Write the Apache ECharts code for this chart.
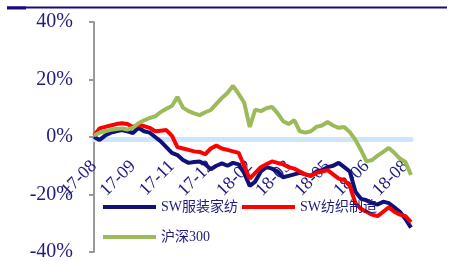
<!DOCTYPE html>
<html>
<head>
<meta charset="utf-8">
<script src="https://cdn.jsdelivr.net/npm/echarts@6/dist/echarts.min.js"></script>
<style>
  html, body { margin: 0; padding: 0; background: #fff; }
  #chart { width: 457px; height: 261px; }
</style>
</head>
<body>
<div id="chart"></div>
<script>
// tick labels shown every 7 points on the x axis
var tickLabels = ["17-08", "17-09", "17-11", "17-12", "18-02", "18-03", "18-05", "18-06", "18-08"];
var weeks = [];
for (var i = 0; i < 58; i++) weeks.push(i);

// SW服装家纺
var fuzhuang = [0, -1, 0.5, 1.5, 2, 2.4, 2, 1.4, 3.2, 2,
  1.5, 0, -1.5, -3.5, -5.5, -6.3, -8, -9, -8.7, -8.5,
  -9.5, -11.2, -10, -9.2, -10, -9, -9.5, -12.5, -17, -15.5,
  -12, -10.5, -11, -12, -14, -13.5, -13, -12.5, -13, -13.5,
  -12, -11.5, -10.5, -10, -9, -10.5, -12, -19, -21.5, -22,
  -23, -23.5, -22.5, -23, -24.5, -26, -28.5, -31.5];
// SW纺织制造
var fangzhi = [0.5, 3, 3.5, 4, 4.5, 4.8, 4.5, 3.5, 4.2, 3.8,
  3.2, 2, 2.2, 2.4, 0.5, -3.5, -4, -4.5, -5, -5.2,
  -6, -4, -3, -4, -4.5, -5, -5.5, -10, -14.5, -12.5,
  -10.5, -9.5, -8.5, -9, -9.5, -10.5, -11, -12, -13, -13.5,
  -12.5, -12, -11.5, -13, -14.5, -15, -17, -23, -25, -26,
  -27, -27.5, -26, -24.5, -26, -27, -27.5, -29.6];
// 沪深300
var hs300 = [0.5, 1.5, 2, 2.5, 2.8, 3, 2.6, 3.2, 4.8, 5.8,
  6.6, 7.2, 8.7, 9.8, 10.8, 13.9, 10.2, 9, 8.2, 7.6,
  8.6, 9.4, 11.5, 13.6, 15.3, 17.8, 15, 12, 3.5, 9.5,
  9, 10, 10.5, 8.3, 5.5, 4.5, 5.9, 2, 1.5, 2,
  3.5, 4, 5.2, 4, 3.2, 3.5, 1.7, -1, -4.5, -8.5,
  -8, -6.5, -5.2, -3.8, -5.5, -7.5, -8.7, -13.2];

var navy = "#1f1a7d";
var serif = "'Liberation Serif', 'Times New Roman', 'Noto Sans CJK SC', serif";

var myChart = echarts.init(document.getElementById("chart"));
myChart.setOption({
  animation: false,
  grid: { left: 94, right: 46, top: 22, bottom: 9, containLabel: false, outerBoundsMode: "none" },
  graphic: [
    { type: "line", shape: { x1: 7, y1: 7.5, x2: 447, y2: 7.5 }, style: { stroke: "#1a0a80", lineWidth: 2 } },
    { type: "rect", shape: { x: 7, y: 6.5, width: 19, height: 3 }, style: { fill: "#1a0a80" } }
  ],
  legend: [
    {
      data: ["SW服装家纺", "SW纺织制造"],
      left: 103, top: 200, padding: 0,
      icon: "rect", itemWidth: 53, itemHeight: 4, itemGap: 4,
      textStyle: { fontFamily: serif, fontSize: 14, color: navy }
    },
    {
      data: ["沪深300"],
      left: 103, top: 230, padding: 0,
      icon: "rect", itemWidth: 53, itemHeight: 4,
      textStyle: { fontFamily: serif, fontSize: 14, color: navy }
    }
  ],
  xAxis: {
    type: "category",
    data: weeks,
    boundaryGap: false,
    offset: -112.5, // sits just under the 0% line
    axisLine: { onZero: false, lineStyle: { color: "#cfe5fb", width: 5 } },
    axisTick: { show: false },
    axisLabel: {
      interval: 6,
      rotate: 45,
      margin: 24,
      fontFamily: serif,
      fontSize: 18,
      color: navy,
      formatter: function (v, idx) { return tickLabels[idx / 7] || ""; }
    },
    splitLine: { show: false }
  },
  yAxis: {
    type: "value",
    min: -40, max: 40, interval: 20,
    axisLine: { show: true, lineStyle: { color: "#9a9a9a", width: 2 } },
    axisTick: { show: true, length: 5, lineStyle: { color: "#9a9a9a", width: 2 } },
    axisLabel: {
      formatter: "{value}%",
      margin: 21,
      fontFamily: serif,
      fontSize: 20,
      color: navy
    },
    splitLine: { show: false }
  },
  series: [
    {
      name: "SW服装家纺", type: "line", data: fuzhuang,
      showSymbol: false, itemStyle: { color: "#10107a" },
      lineStyle: { color: "#10107a", width: 4 }
    },
    {
      name: "SW纺织制造", type: "line", data: fangzhi,
      showSymbol: false, itemStyle: { color: "#ff0000" },
      lineStyle: { color: "#ff0000", width: 4 }
    },
    {
      name: "沪深300", type: "line", data: hs300,
      showSymbol: false, itemStyle: { color: "#9bbb59" },
      lineStyle: { color: "#9bbb59", width: 4 }
    }
  ]
});
</script>
</body>
</html>
